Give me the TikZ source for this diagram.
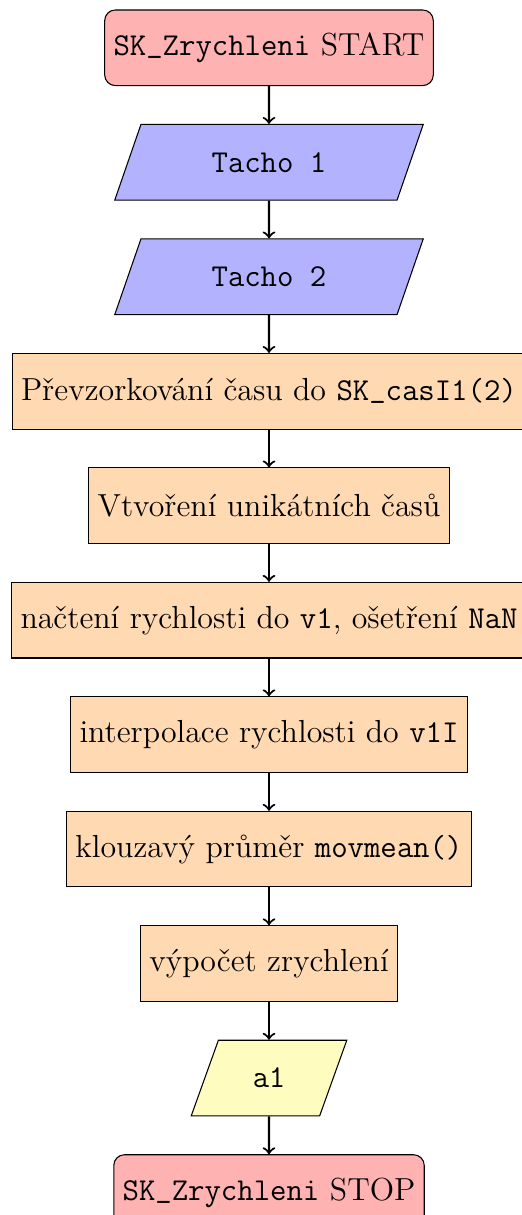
\documentclass[tikz,border=0pt]{standalone}
\usetikzlibrary{shapes.geometric,positioning}
% typewriter parts in the classic cmtt face
\newcommand\code[1]{{\fontencoding{OT1}\fontfamily{cmtt}\selectfont #1}}
\newcommand\us{\char95\relax}
\begin{document}
\begin{tikzpicture}[
  font=\fontsize{12}{14.4}\selectfont,
  node distance=0.5cm,
  base/.style={draw, minimum height=1cm, align=center},
  terminal/.style={base, rounded corners, fill=red!30},
  iobox/.style={base, trapezium, trapezium left angle=70, trapezium right angle=110,
    trapezium stretches=true, fill=blue!30, minimum width=4.09cm},
  outbox/.style={iobox, fill=yellow!25, minimum width=2.06cm},
  procbox/.style={base, rectangle, fill=orange!30, minimum width=3cm},
  flow/.style={thick, ->}
]
  % page frame
  \useasboundingbox (-3.558,0.632) rectangle (3.334,-15.438);

  \node[terminal] (start) at (0,0) {\code{SK\us Zrychleni} START};
  \node[iobox, below=of start] (t1) {\code{Tacho 1}};
  \node[iobox, below=of t1] (t2) {\code{Tacho 2}};
  \node[procbox, below=of t2] (p1) {Převzorkování času do \code{SK\us casI1(2)}};
  \node[procbox, below=of p1] (p2) {Vtvoření unikátních časů};
  \node[procbox, below=of p2] (p3) {načtení rychlosti do \code{v1}, ošetření \code{NaN}};
  \node[procbox, below=of p3] (p4) {interpolace rychlosti do \code{v1I}};
  \node[procbox, below=of p4] (p5) {klouzavý průměr \code{movmean()}};
  \node[procbox, below=of p5] (p6) {výpočet zrychlení};
  \node[outbox, below=of p6] (a1) {\code{a1}};
  \node[terminal, below=of a1] (stop) {\code{SK\us Zrychleni} STOP};

  \foreach \u/\v in {start/t1, t1/t2, t2/p1, p1/p2, p2/p3, p3/p4, p4/p5, p5/p6, p6/a1, a1/stop}
    \draw[flow] (\u) -- (\v);
\end{tikzpicture}
\end{document}
